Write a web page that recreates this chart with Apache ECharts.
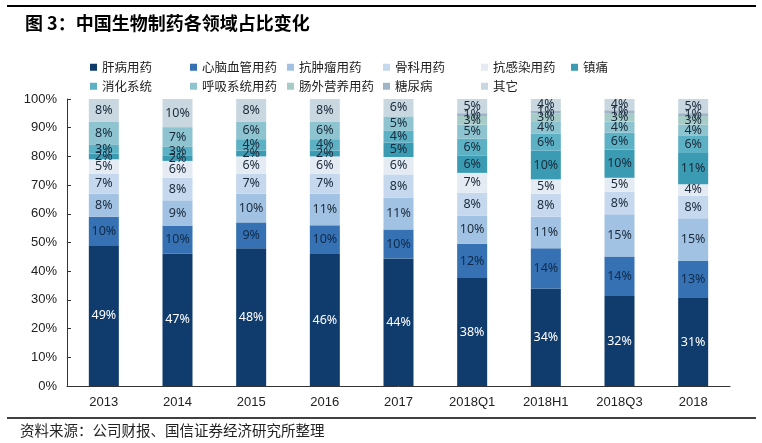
<!DOCTYPE html>
<html>
<head>
<meta charset="utf-8">
<script src="https://cdn.jsdelivr.net/npm/echarts@6/dist/echarts.min.js"></script>
<style>
html,body{margin:0;padding:0;background:#fff;}
#c{width:762px;height:443px;}
</style>
</head>
<body>
<div id="c"></div>
<script>
const categories = ['2013','2014','2015','2016','2017','2018Q1','2018H1','2018Q3','2018'];
const seriesNames = ['肝病用药','心脑血管用药','抗肿瘤用药','骨科用药','抗感染用药','镇痛','消化系统','呼吸系统用药','肠外营养用药','糖尿病','其它'];
const liver      = [49,47,48,46,44,38,34,32,31];
const cardio     = [10,10,9,10,10,12,14,14,13];
const tumor      = [8,9,10,11,11,10,11,15,15];
const ortho      = [7,8,7,7,8,8,8,8,8];
const infection  = [5,6,6,6,6,7,5,5,4];
const pain       = [2,2,2,2,5,6,10,10,11];
const digestive  = [3,3,4,4,4,6,6,6,6];
const respir     = [8,7,6,6,5,5,4,4,4];
const parenteral = [0,0,0,0,0,3,3,3,3];
const diabetes   = [0,0,0,0,0,1,1,1,1];
const others     = [8,10,8,8,6,5,4,4,5];
const yTicks = ['0%','10%','20%','30%','40%','50%','60%','70%','80%','90%','100%'];

const allValues = [liver,cardio,tumor,ortho,infection,pain,digestive,respir,parenteral,diabetes,others];
const colors = ['#0f3b6d','#3571b3','#a2c2e3','#c5d8ed','#e4ebf3','#3a9bb3','#5db1c5','#8ec4d0','#a7cbc6','#9fb4c6','#c9d7e1'];
const labelColors = ['#ffffff','#0f2a4a','#1a2a3a','#1a2a3a','#1a2a3a','#1a2a3a','#1a2a3a','#1a2a3a','#1a2a3a','#1a2a3a','#1a2a3a'];

const totals = categories.map((c,i)=>allValues.reduce((s,a)=>s+a[i],0));

const series = seriesNames.map((name,k)=>({
  name: name,
  type: 'bar',
  stack: 'total',
  barWidth: 30,
  itemStyle: {color: colors[k]},
  label: {
    show: true,
    position: 'inside',
    color: labelColors[k],
    fontSize: 12.5,
    fontFamily: 'Noto Sans',
    formatter: p => (p.data.raw > 0 ? p.data.raw + '%' : '')
  },
  data: allValues[k].map((v,i)=>({value: v/totals[i]*100, raw: v}))
}));

// legend layout: 6 columns, 2 rows
const legendCols = [90, 190, 287, 383, 481, 571];
const legendRows = [61, 80];
const legends = seriesNames.map((name,k)=>({
  data: [name],
  left: legendCols[k % 6],
  top: legendRows[Math.floor(k / 6)],
  padding: 0,
  itemWidth: 7, itemHeight: 7, itemGap: 5, icon: 'rect',
  selectedMode: false,
  textStyle: {fontSize: 12.5, color: '#222', fontFamily: 'Noto Sans CJK SC'}
}));

const chart = echarts.init(document.getElementById('c'));
chart.setOption({
  animation: false,
  backgroundColor: '#fff',
  title: {
    text: '图 3：中国生物制药各领域占比变化',
    left: 20, top: 9,
    textStyle: {fontSize: 18, fontWeight: 'bold', color: '#000', fontFamily: 'Noto Sans CJK SC'}
  },
  legend: legends,
  grid: {left: 67, right: 32, top: 99, bottom: 57},
  xAxis: {
    type: 'category',
    data: categories,
    axisLine: {lineStyle: {color: '#333'}},
    axisTick: {inside: true, length: 4, lineStyle: {color: '#333'}},
    axisLabel: {color: '#222', fontSize: 13, fontFamily: 'Liberation Sans', margin: 10}
  },
  yAxis: {
    type: 'value',
    min: 0, max: 100, interval: 10,
    axisLine: {show: true, lineStyle: {color: '#333'}},
    axisTick: {show: true, inside: true, length: 4, lineStyle: {color: '#333'}},
    splitLine: {show: false},
    axisLabel: {color: '#222', fontSize: 13, fontFamily: 'Liberation Sans', margin: 10,
      formatter: v => yTicks[Math.round(v/10)]}
  },
  graphic: [
    {type: 'line', shape: {x1: 7, y1: 6, x2: 756, y2: 6}, style: {stroke: '#000', lineWidth: 2}},
    {type: 'line', shape: {x1: 7, y1: 418, x2: 756, y2: 418}, style: {stroke: '#000', lineWidth: 1.5}},
    {type: 'text', left: 20, top: 423, style: {text: '资料来源：公司财报、国信证券经济研究所整理', fontSize: 14.5, fill: '#222', fontFamily: 'Noto Sans CJK SC'}}
  ],
  series: series
});
</script>
</body>
</html>
